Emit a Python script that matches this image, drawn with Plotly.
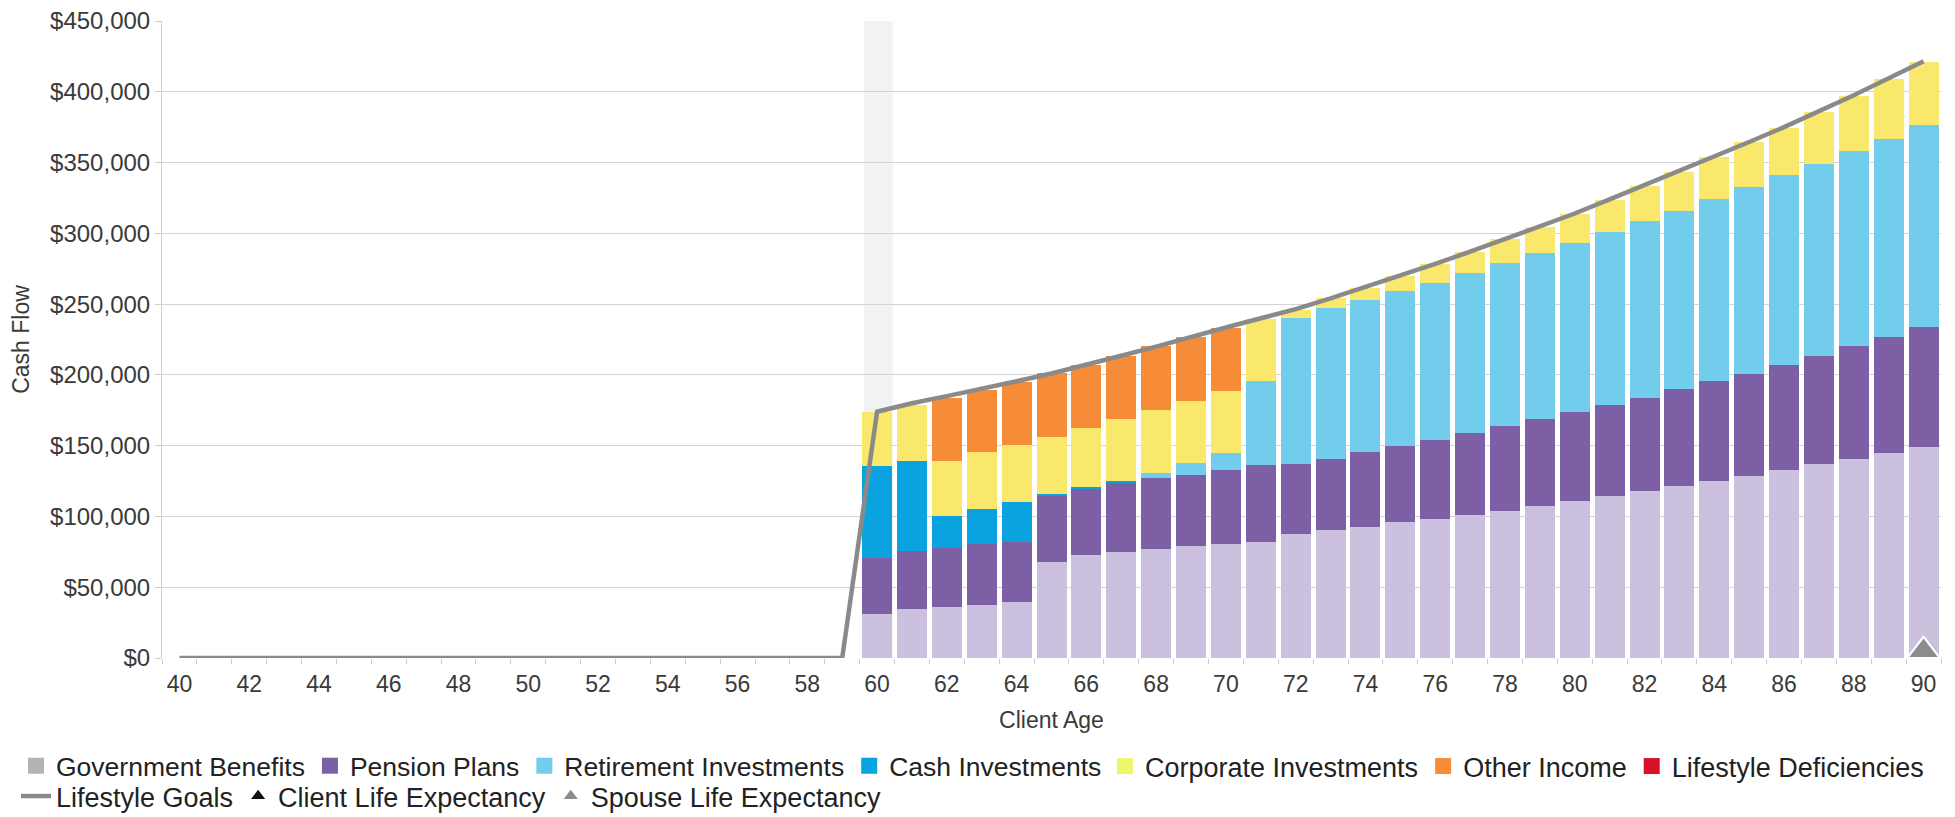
import plotly.graph_objects as go

# ---------------- data ----------------
ages = list(range(40, 91))

government_benefits = [0, 0, 0, 0, 0, 0, 0, 0, 0, 0, 0, 0, 0, 0, 0, 0, 0, 0, 0, 0,
                       31000, 34900, 36200, 37600, 39300, 67800, 73000, 74700, 76900, 78800,
                       80200, 82200, 87600, 90100, 92200, 95800, 98500, 101200, 104200, 107200,
                       110800, 114500, 117800, 121700, 125000, 128900, 132500, 136700, 140700, 144900,
                       148800]
pension_plans = [0, 0, 0, 0, 0, 0, 0, 0, 0, 0, 0, 0, 0, 0, 0, 0, 0, 0, 0, 0,
                 39300, 40600, 41800, 42900, 42800, 47300, 46700, 49100, 50000, 50800,
                 52700, 53900, 49700, 50300, 53600, 53900, 55400, 57500, 59700, 61500,
                 63000, 64400, 66200, 68100, 70500, 72000, 74400, 76900, 79800, 81900,
                 84900]
retirement_investments = [0, 0, 0, 0, 0, 0, 0, 0, 0, 0, 0, 0, 0, 0, 0, 0, 0, 0, 0, 0,
                          0, 0, 0, 0, 0, 0, 0, 0, 4100, 8200,
                          11800, 59700, 103100, 106900, 106900, 109600, 111200, 113300, 115000, 117100,
                          119600, 121700, 124400, 125900, 128900, 131600, 134100, 135500, 137600, 140100,
                          143100]
cash_investments = [0, 0, 0, 0, 0, 0, 0, 0, 0, 0, 0, 0, 0, 0, 0, 0, 0, 0, 0, 0,
                    65100, 64000, 22200, 24700, 28300, 800, 800, 1400, 0, 0,
                    0, 0, 0, 0, 0, 0, 0, 0, 0, 0,
                    0, 0, 0, 0, 0, 0, 0, 0, 0, 0,
                    0]
corporate_investments = [0, 0, 0, 0, 0, 0, 0, 0, 0, 0, 0, 0, 0, 0, 0, 0, 0, 0, 0, 0,
                         38100, 39000, 39300, 40100, 40100, 40100, 42100, 43400, 44200, 44000,
                         44200, 43400, 5700, 6900, 9000, 10600, 13200, 14700, 16900, 18700,
                         20500, 22900, 25300, 27700, 29200, 31700, 33700, 36700, 38900, 42400,
                         44300]
other_income = [0, 0, 0, 0, 0, 0, 0, 0, 0, 0, 0, 0, 0, 0, 0, 0, 0, 0, 0, 0,
                0, 0, 44500, 43900, 44500, 45000, 44200, 44800, 45000, 45000,
                44500, 0, 0, 0, 0, 0, 0, 0, 0, 0,
                0, 0, 0, 0, 0, 0, 0, 0, 0, 0,
                0]
lifestyle_deficiencies = [0, 0, 0, 0, 0, 0, 0, 0, 0, 0, 0, 0, 0, 0, 0, 0, 0, 0, 0, 0,
                          0, 0, 0, 0, 0, 0, 0, 0, 0, 0,
                          0, 0, 0, 0, 0, 0, 0, 0, 0, 0,
                          0, 0, 0, 0, 0, 0, 0, 0, 0, 0,
                          0]
lifestyle_goals = [0, 0, 0, 0, 0, 0, 0, 0, 0, 0, 0, 0, 0, 0, 0, 0, 0, 0, 0, 0,
                   174000, 180000, 185000, 190000, 195500, 201000, 207000, 213500, 220000, 227000,
                   233500, 240000, 246500, 254000, 262000, 270000, 278500, 287000, 296000, 305000,
                   314000, 324000, 334000, 344000, 354000, 364500, 375000, 386000, 397500, 409500,
                   421500]
client_life_expectancy_age = [90]
spouse_life_expectancy_age = [90]
highlight_age = 60

y_ticks = [0, 50000, 100000, 150000, 200000, 250000, 300000, 350000, 400000, 450000]
y_tick_labels = ["$" + format(v, ",") for v in y_ticks]

# ---------------- styling ----------------
# figure offset by the page's default 8px body margin
W, H = 1947, 809
M_L, M_R, M_T, M_B = 154, 14, 13, 159
plot_w = W - M_L - M_R
plot_h = H - M_T - M_B
Y_MAX = 450000
FONT = "Liberation Sans, Arial, sans-serif"
TXT = "#3a3a3a"

# (name, values, bar colour, legend swatch colour, legend id)
bar_series = [
    ("Government Benefits", government_benefits, "#cbc1de", "#b3b3b3", "legend"),
    ("Pension Plans", pension_plans, "#7d5fa5", "#7d5fa5", "legend"),
    ("Retirement Investments", retirement_investments, "#72cdec", "#72cdec", "legend"),
    ("Cash Investments", cash_investments, "#0aa3e0", "#0aa3e0", "legend"),
    ("Corporate Investments", corporate_investments, "#f9e86c", "#eef56a", "legend3"),
    ("Other Income", other_income, "#f68c38", "#f68c38", "legend3"),
    ("Lifestyle Deficiencies", lifestyle_deficiencies, "#d7112b", "#d7112b", "legend3"),
]

fig = go.Figure()

for name, vals, col, _, _ in bar_series:
    fig.add_trace(go.Bar(
        x=ages, y=vals, name=name, marker=dict(color=col, line=dict(width=0)),
        showlegend=False, hoverinfo="x+y+name"))

# legend-only swatches (first legend row)
for name, _, _, lcol, leg in bar_series:
    fig.add_trace(go.Scatter(
        x=[None], y=[None], mode="markers", name=name,
        marker=dict(symbol="square", size=16, color=lcol),
        legend=leg))

fig.add_trace(go.Scatter(
    x=ages, y=lifestyle_goals, mode="lines", name="Lifestyle Goals",
    line=dict(color="#8a8a8a", width=4.5), legend="legend2"))

tri_size = 28
tri_offset = (tri_size / 4) * Y_MAX / plot_h  # lift triangle so its base sits on the axis
fig.add_trace(go.Scatter(
    x=client_life_expectancy_age, y=[tri_offset] * len(client_life_expectancy_age),
    mode="markers", name="Client Life Expectancy",
    marker=dict(symbol="triangle-up", size=tri_size, color="#111111",
                line=dict(color="white", width=2)),
    cliponaxis=False, legend="legend2"))
fig.add_trace(go.Scatter(
    x=spouse_life_expectancy_age, y=[tri_offset] * len(spouse_life_expectancy_age),
    mode="markers", name="Spouse Life Expectancy",
    marker=dict(symbol="triangle-up", size=tri_size, color="#8c8c8c",
                line=dict(color="white", width=2)),
    cliponaxis=False, legend="legend2"))

fig.add_shape(type="rect", xref="x", yref="y domain",
              x0=highlight_age - 0.38, x1=highlight_age + 0.45, y0=0, y1=1,
              fillcolor="#f2f2f2", line=dict(width=0), layer="below")


def legend_box(left_px, top_px, size):
    return dict(orientation="h", xref="container", yref="container",
                x=left_px / W, xanchor="left", y=1 - top_px / H, yanchor="top",
                font=dict(size=size, color="#222222", family=FONT), traceorder="normal",
                bgcolor="rgba(0,0,0,0)", tracegroupgap=0, itemclick=False)


fig.update_layout(
    width=W, height=H,
    margin=dict(l=M_L, r=M_R, t=M_T, b=M_B, autoexpand=False),
    barmode="stack", bargap=0.14,
    plot_bgcolor="white", paper_bgcolor="white",
    font=dict(family=FONT, color=TXT, size=23),
    xaxis=dict(
        range=[39.5, 90.5], tickmode="linear", tick0=40, dtick=2,
        ticks="", showgrid=False, zeroline=False, showline=False, automargin=False,
        tickfont=dict(size=23, color=TXT),
        ticklabelstandoff=10, ticklabeloverflow="allow",
        minor=dict(tickmode="linear", tick0=39.5, dtick=1, ticks="outside",
                   ticklen=5, tickcolor="#cccccc", showgrid=False),
        title=dict(text="Client Age", font=dict(size=23, color=TXT), standoff=15),
    ),
    yaxis=dict(
        range=[0, Y_MAX], tickmode="array", tickvals=y_ticks, ticktext=y_tick_labels,
        showgrid=True, gridcolor="#d4d4d4", gridwidth=1, automargin=False,
        zeroline=False, showline=True, linecolor="#d0d0d0", linewidth=1,
        ticks="outside", ticklen=6, tickcolor="#d0d0d0", ticklabeloverflow="allow",
        tickfont=dict(size=24, color=TXT),
        title=dict(text="Cash Flow", font=dict(size=23, color=TXT), standoff=23),
    ),
    legend=legend_box(8, 734, 26.5),
    legend3=legend_box(1097, 734, 27),
    legend2=legend_box(8, 764, 27),
    showlegend=True,
)

fig.write_html("out.html")
